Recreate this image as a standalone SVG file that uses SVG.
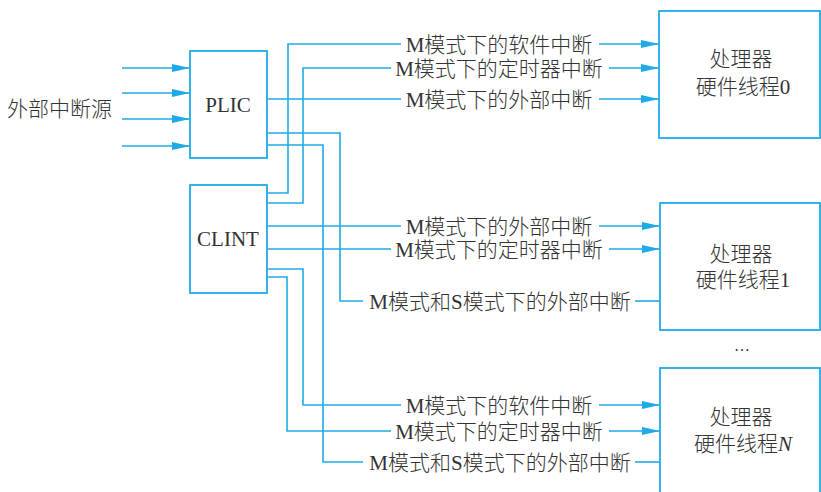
<svg xmlns="http://www.w3.org/2000/svg" width="821" height="492" viewBox="0 0 821 492">
<defs>
<style>
.box{fill:#ffffff;stroke:#1eaae7;stroke-width:1.8}
.w{fill:none;stroke:#1eaae7;stroke-width:1.6}
.a{fill:none;stroke:#1eaae7;stroke-width:1.6;marker-end:url(#ah)}
text{font-family:"Liberation Serif","Noto Sans CJK SC",serif;font-size:21px;font-weight:300;fill:#333333}
.c{text-anchor:middle}
</style>
<marker id="ah" markerWidth="18" markerHeight="8" refX="18" refY="4" orient="auto" markerUnits="userSpaceOnUse">
<path d="M0,0 L18,4 L0,8 Z" fill="#1eaae7"/>
</marker>
</defs>
<rect width="821" height="492" fill="#ffffff"/>

<g id="source">
<text x="7" y="116">外部中断源</text>
</g>

<g id="plic">
<rect class="box" x="190" y="51" width="77" height="107"/>
<text class="c" x="228" y="112">PLIC</text>
</g>

<g id="clint">
<rect class="box" x="190" y="185" width="77" height="108"/>
<text class="c" x="228" y="246">CLINT</text>
</g>

<g id="hart0">
<rect class="box" x="659" y="11" width="161" height="127"/>
<text class="c" x="741" y="66">处理器</text>
<text class="c" x="743" y="94">硬件线程0</text>
</g>

<g id="hart1">
<rect class="box" x="660" y="203" width="160" height="127"/>
<text class="c" x="741" y="261">处理器</text>
<text class="c" x="743" y="287">硬件线程1</text>
</g>

<g id="hartN">
<rect class="box" x="660" y="368" width="160" height="140"/>
<text class="c" x="741" y="424">处理器</text>
<text class="c" x="743" y="451">硬件线程<tspan font-style="italic">N</tspan></text>
</g>

<g id="ellipsis">
<text class="c" x="742" y="351" style="font-size:16px">…</text>
</g>

<g id="connectors">
<!-- inputs -->
<line class="a" x1="122" y1="68" x2="190" y2="68"/>
<line class="a" x1="122" y1="93" x2="190" y2="93"/>
<line class="a" x1="122" y1="119" x2="190" y2="119"/>
<line class="a" x1="122" y1="146" x2="190" y2="146"/>

<!-- hart0 -->
<polyline class="w" points="267,193 288,193 288,44 401,44"/>
<line class="a" x1="599" y1="44" x2="659" y2="44"/>
<text class="c" x="499" y="51.5">M模式下的软件中断</text>

<polyline class="w" points="267,203 303,203 303,68 391,68"/>
<line class="a" x1="609" y1="68" x2="659" y2="68"/>
<text class="c" x="499" y="75.5">M模式下的定时器中断</text>

<line class="w" x1="267" y1="99" x2="401" y2="99"/>
<line class="a" x1="599" y1="99" x2="659" y2="99"/>
<text class="c" x="499" y="106.5">M模式下的外部中断</text>

<!-- hart1 -->
<line class="w" x1="267" y1="226" x2="401" y2="226"/>
<line class="a" x1="599" y1="226" x2="660" y2="226"/>
<text class="c" x="499" y="233.5">M模式下的外部中断</text>

<line class="w" x1="267" y1="249" x2="391" y2="249"/>
<line class="a" x1="609" y1="249" x2="660" y2="249"/>
<text class="c" x="499" y="256.5">M模式下的定时器中断</text>

<polyline class="w" points="267,133 340,133 340,301 363,301"/>
<line class="w" x1="635" y1="301" x2="660" y2="301"/>
<text class="c" x="500" y="308.5">M模式和S模式下的外部中断</text>

<!-- hart N -->
<polyline class="w" points="267,269 303,269 303,405 401,405"/>
<line class="a" x1="599" y1="405" x2="660" y2="405"/>
<text class="c" x="499" y="412.5">M模式下的软件中断</text>

<polyline class="w" points="267,277 287,277 287,431 391,431"/>
<line class="a" x1="609" y1="431" x2="660" y2="431"/>
<text class="c" x="499" y="438.5">M模式下的定时器中断</text>

<polyline class="w" points="267,145 323,145 323,462 363,462"/>
<line class="w" x1="635" y1="462" x2="660" y2="462"/>
<text class="c" x="500" y="469.5">M模式和S模式下的外部中断</text>
</g>
</svg>
